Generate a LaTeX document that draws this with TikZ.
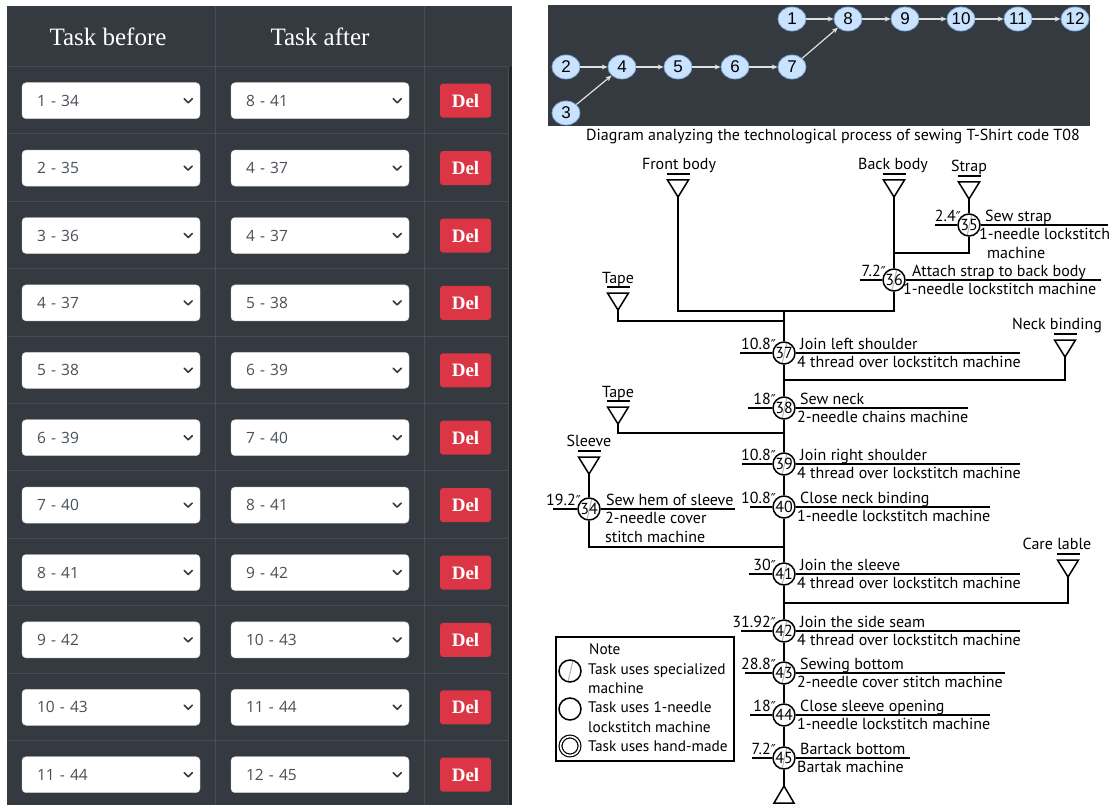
\documentclass[tikz,border=0pt]{standalone}
\usepackage{fontspec}
\setmainfont{Liberation Serif}
\newfontfamily\uifont{Open Sans}
\newfontfamily\graphfont{Liberation Sans}
\newfontfamily\diafont{PT Sans}
\newfontfamily\symfont{DejaVu Sans}
\usetikzlibrary{arrows.meta,shapes.geometric}

\definecolor{tabledark}{HTML}{343A40}
\definecolor{tableline}{HTML}{454D55}
\definecolor{scrolldark}{HTML}{212529}
\definecolor{delred}{HTML}{DC3545}
\definecolor{seltext}{HTML}{495057}
\definecolor{selborder}{HTML}{CED4DA}
\definecolor{nodefill}{HTML}{C9E3FF}
\definecolor{nodeedge}{HTML}{7FA8D6}

\newcommand{\secmark}{{\symfont\fontsize{13.5}{13.5}\selectfont ″}}

\tikzset{
  headtxt/.style={text=white,font=\fontsize{25}{25}\selectfont,inner sep=0pt},
  selbox/.style={draw=selborder,fill=white,rounded corners=4pt,minimum height=36pt,
    text width=148pt,inner xsep=15pt,inner ysep=0pt,align=left,text=seltext,
    font=\uifont\fontsize{15.5}{15.5}\selectfont},
  delbtn/.style={fill=delred,rounded corners=3pt,minimum width=51pt,minimum height=34pt,
    inner sep=0pt,text=white,font=\bfseries\fontsize{19}{19}\selectfont},
  chevron/.style={draw=tabledark,line width=1.6pt,line cap=round,line join=round},
  gnode/.style={ellipse,fill=nodefill,draw=nodeedge,line width=0.8pt,minimum width=28pt,
    minimum height=24pt,inner sep=0pt,font=\graphfont\fontsize{17}{17}\selectfont},
  garrow/.style={draw=white!88!black,line width=1.2pt,-{Stealth[length=6pt,width=5pt]}},
  wire/.style={line width=1.5pt},
  lbl/.style={font=\diafont\fontsize{16}{16}\selectfont,inner sep=0pt},
  keytxt/.style={lbl,anchor=base west,font=\diafont\fontsize{15.3}{15.3}\selectfont},
  task/.style={circle,draw,line width=1.5pt,minimum size=22pt,inner sep=0pt,
    font=\diafont\fontsize{16}{16}\selectfont},
  plain/.style={task},
  spec/.style={task,path picture={\draw[gray!55,line width=1.1pt]
    ([xshift=-2pt]path picture bounding box.south) -- ([xshift=3pt]path picture bounding box.north);}},
}

% input symbol: name, x, y of the bar
\newcommand{\source}[3]{%
  \draw[wire] (#2-11.5,#3) -- (#2+11.5,#3);
  \draw[wire,line join=miter] (#2-10.5,#3+6) -- (#2+10.5,#3+6) -- (#2,#3+23) -- cycle;
  \coordinate (#1) at (#2,#3+23);
}

\begin{document}
\begin{tikzpicture}[x=1pt,y=-1pt,>=Stealth]
\useasboundingbox[fill=white] (0,0) rectangle (1113,805);

% The table
\fill[tabledark] (7,6) rectangle (512,805);
\fill[scrolldark] (508.5,67) rectangle (512,805);
\foreach \k in {0,...,10}
  \draw[tableline,line width=1pt] (7,66.5+67.4*\k) -- (508,66.5+67.4*\k);
\draw[tableline,line width=1pt] (215,6) -- (215,805);
\draw[tableline,line width=1pt] (424,6) -- (424,805);
\draw[tableline,line width=1pt] (508,67) -- (508,805);

\node[headtxt] (hbefore) at (108,37) {Task before};
\node[headtxt] (hafter) at (320,37) {Task after};

\foreach \before/\after [count=\i from 0] in {1 - 34/8 - 41,2 - 35/4 - 37,3 - 36/4 - 37,
  4 - 37/5 - 38,5 - 38/6 - 39,6 - 39/7 - 40,7 - 40/8 - 41,8 - 41/9 - 42,9 - 42/10 - 43,
  10 - 43/11 - 44,11 - 44/12 - 45}
{
  \node[selbox] (b\i) at (111,100.7+67.4*\i) {\before};
  \node[selbox] (a\i) at (320,100.7+67.4*\i) {\after};
  \node[delbtn] (d\i) at (465.5,100.7+67.4*\i) {Del};
  \draw[chevron] ([xshift=-16pt,yshift=2pt]b\i.east) -- ([xshift=-12pt,yshift=-2pt]b\i.east)
    -- ([xshift=-8pt,yshift=2pt]b\i.east);
  \draw[chevron] ([xshift=-16pt,yshift=2pt]a\i.east) -- ([xshift=-12pt,yshift=-2pt]a\i.east)
    -- ([xshift=-8pt,yshift=2pt]a\i.east);
}

% The graph
\fill[tabledark] (548,5) rectangle (1090,126);
\foreach \n/\x/\y in {1/792/19,8/848/19,9/905/19,10/961/19,11/1018/19,12/1075/19,
  2/566/67,4/622/67,5/678/67,6/735/67,7/792/67,3/566/113}
  \node[gnode] (g\n) at (\x,\y) {\n};
\foreach \a/\b in {1/8,8/9,9/10,10/11,11/12,2/4,3/4,4/5,5/6,6/7,7/8}
  \draw[garrow] (g\a) -- (g\b);

% The process diagram
\node[lbl] (cap) at (833,137) {Diagram analyzing the technological process of sewing T-Shirt code T08};

\source{fb}{678}{174}
\source{bb}{894}{174}
\source{st}{969}{176}
\source{tp1}{618}{287}
\source{nb}{1065}{334}
\source{tp2}{618}{401}
\source{sl}{589}{451}
\source{cl}{1068}{554}
\node[lbl,anchor=base] (lfb) at (679,170) {Front body};
\node[lbl,anchor=base] (lbb) at (893,170) {Back body};
\node[lbl,anchor=base] (lst) at (969,172) {Strap};
\node[lbl,anchor=base] (ltp1) at (618,283) {Tape};
\node[lbl,anchor=base] (lnb) at (1057,329) {Neck binding};
\node[lbl,anchor=base] (ltp2) at (618,397) {Tape};
\node[lbl,anchor=base] (lsl) at (589,446) {Sleeve};
\node[lbl,anchor=base] (lcl) at (1057,549) {Care lable};

% tasks on the main line
\foreach \n/\y/\tm/\xl/\xr/\sty/\ta/\tb in {
  37/353/10.8/740/1020/spec/Join left shoulder/4 thread over lockstitch machine,
  38/408/18/748/968/spec/Sew neck/2-needle chains machine,
  39/464/10.8/742/1020/spec/Join right shoulder/4 thread over lockstitch machine,
  40/507/10.8/750/990/plain/Close neck binding/1-needle lockstitch machine,
  41/574/30/749/1020/spec/Join the sleeve/4 thread over lockstitch machine,
  42/631/31.92/741/1020/spec/Join the side seam/4 thread over lockstitch machine,
  43/673/28.8/745/1005/spec/Sewing bottom/2-needle cover stitch machine,
  44/715/18/750/990/plain/Close sleeve opening/1-needle lockstitch machine,
  45/758/7.2/752/910/spec/Bartack bottom/Bartak machine}
{
  \node[\sty] (t\n) at (784,\y) {\n};
  \draw[wire] (\xl,\y) -- (t\n.west);
  \draw[wire] (t\n.east) -- (\xr,\y);
  \node[lbl,anchor=base east] (m\n) at (776,\y-4) {\tm\secmark};
  \node[lbl,anchor=base west] (u\n) at (800,\y-4) {\ta};
  \node[lbl,anchor=base west] (v\n) at (797,\y+14) {\tb};
}

% tasks off the main line
\node[spec] (t35) at (969,225) {35};
\draw[wire] (935,225) -- (t35.west);
\draw[wire] (t35.east) -- (1108,225);
\node[lbl,anchor=base east] (m35) at (961,221) {2.4\secmark};
\node[lbl,anchor=base west] (u35) at (985,221) {Sew strap};
\node[lbl,anchor=base west] (v35) at (979,239) {1-needle lockstitch};
\node[lbl,anchor=base west] (w35) at (987,258) {machine};

\node[spec] (t36) at (894,280) {36};
\draw[wire] (860,280) -- (t36.west);
\draw[wire] (t36.east) -- (1101,280);
\node[lbl,anchor=base east] (m36) at (886,276) {7.2\secmark};
\node[lbl,anchor=base west] (u36) at (912,276) {Attach strap to back body};
\node[lbl,anchor=base west] (v36) at (903,294) {1-needle lockstitch machine};

\node[spec] (t34) at (589,509) {34};
\draw[wire] (553,509) -- (t34.west);
\draw[wire] (t34.east) -- (735,509);
\node[lbl,anchor=base east] (m34) at (581,505) {19.2\secmark};
\node[lbl,anchor=base west] (u34) at (606,505) {Sew hem of sleeve};
\node[lbl,anchor=base west] (v34) at (605,523) {2-needle cover};
\node[lbl,anchor=base west] (w34) at (605,542) {stitch machine};

% connectors
\coordinate (j0) at (784,311);
\coordinate (j36) at (894,311);
\coordinate (fin) at (784,786);
\draw[wire] (st) -- (t35);
\draw[wire] (t35) |- (894,253);
\draw[wire] (bb) -- (t36);
\draw[wire] (fb) |- (j36) -- (t36);
\draw[wire] (tp1) |- (784,321);
\draw[wire] (j0) -- (t37);
\draw[wire] (nb) |- (784,380);
\draw[wire] (tp2) |- (784,433);
\draw[wire] (sl) -- (t34);
\draw[wire] (t34) |- (784,547);
\draw[wire] (cl) |- (784,603);
\draw[wire] (t37) -- (t38) -- (t39) -- (t40) -- (t41) -- (t42) -- (t43) -- (t44) -- (t45) -- (fin);
\draw[wire,line join=miter] (774,803) -- (794,803) -- (fin) -- cycle;

% legend
\draw[line width=1.3pt] (556,637) rectangle (734,761);
\node[keytxt] (knote) at (589,654) {Note};
\node[spec,minimum size=22pt] (k1) at (570,671) {};
\node[plain,minimum size=22pt] (k2) at (570,709) {};
\node[task,minimum size=19pt,line width=1.2pt,double,double distance=1.6pt] (k3) at (570,746) {};
\node[keytxt] (k1a) at (588,674) {Task uses specialized};
\node[keytxt] (k1b) at (588,693) {machine};
\node[keytxt] (k2a) at (588,712) {Task uses 1-needle};
\node[keytxt] (k2b) at (588,732) {lockstitch machine};
\node[keytxt] (k3a) at (588,751) {Task uses hand-made};
\end{tikzpicture}
\end{document}
